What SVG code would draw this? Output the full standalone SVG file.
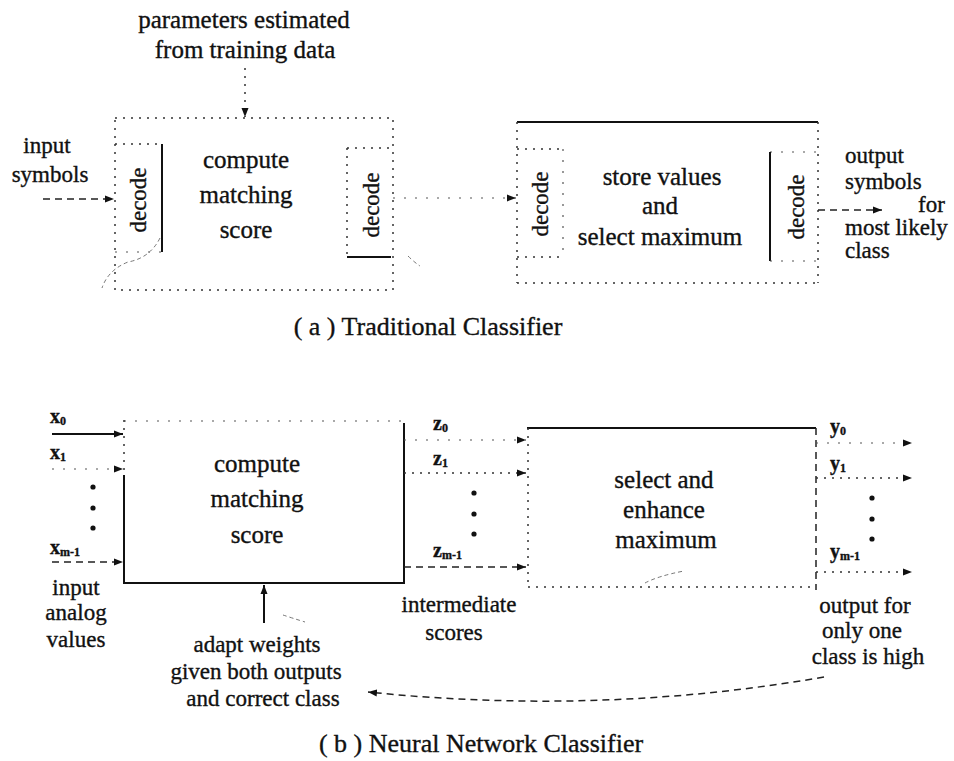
<svg xmlns="http://www.w3.org/2000/svg" width="954" height="761" viewBox="0 0 954 761">
<style>
.t{font-family:"Liberation Serif","Times New Roman",serif;fill:#111;stroke:#111;stroke-width:0.35}
.m{font-size:25px;text-anchor:middle}
.s{font-size:23px}
.c{text-anchor:middle}
.cap{font-size:26px;text-anchor:middle}
.sym{font-size:20px;font-weight:bold}
.sub{font-size:12px;font-weight:bold}
.solid{stroke:#111;stroke-width:2;fill:none}
.dot{stroke:#333;stroke-width:1.5;fill:none;stroke-dasharray:2 6}
.faint{stroke:#555;stroke-width:1.2;fill:none;stroke-dasharray:2 9}
.dash{stroke:#222;stroke-width:1.5;fill:none;stroke-dasharray:7 5}
.noise{stroke:#777;stroke-width:1;fill:none;stroke-dasharray:4 3}
.bead{fill:#111}
</style>
<defs>
<marker id="ah" markerUnits="userSpaceOnUse" markerWidth="10" markerHeight="8" refX="9" refY="4" orient="auto">
<path d="M0,0.5 L9,4 L0,7.5 Z" fill="#111"/>
</marker>
</defs>

<!-- ===== (a) Traditional Classifier ===== -->
<g id="params-label">
<text class="t m" x="244" y="28">parameters estimated</text>
<text class="t m" x="245" y="58">from training data</text>
</g>

<g id="input-symbols">
<text class="t s c" x="47" y="153">input</text>
<text class="t s c" x="50" y="182">symbols</text>
</g>

<g id="compute-a">
<rect class="dot" x="115" y="118" width="278" height="172"/>
<text class="t m" x="246" y="168">compute</text>
<text class="t m" x="246" y="203">matching</text>
<text class="t m" x="246" y="238">score</text>
</g>

<g id="decode-a1">
<line class="dot" x1="115" y1="144" x2="162" y2="144"/>
<line class="solid" x1="162" y1="144" x2="162" y2="252"/>
<line class="faint" x1="115" y1="252" x2="162" y2="252"/>
<text class="t s c" transform="translate(146,200) rotate(-90)">decode</text>
</g>

<g id="decode-a2">
<line class="dot" x1="347" y1="148" x2="393" y2="148"/>
<line class="dot" x1="347" y1="148" x2="347" y2="257"/>
<line class="solid" x1="347" y1="257" x2="391" y2="257"/>
<text class="t s c" transform="translate(379,205) rotate(-90)">decode</text>
</g>

<g id="select-a">
<line class="solid" x1="517" y1="122" x2="818" y2="122"/>
<line class="dot" x1="818" y1="122" x2="818" y2="283"/>
<line class="dot" x1="517" y1="283" x2="818" y2="283"/>
<line class="dot" x1="517" y1="122" x2="517" y2="283"/>
<text class="t m" x="662" y="185">store values</text>
<text class="t m" x="660" y="214">and</text>
<text class="t m" x="660" y="245">select maximum</text>
</g>

<g id="decode-a3">
<line class="dot" x1="517" y1="149" x2="563" y2="149"/>
<line class="faint" x1="563" y1="149" x2="563" y2="257"/>
<line class="dot" x1="517" y1="257" x2="563" y2="257"/>
<text class="t s c" transform="translate(548,204) rotate(-90)">decode</text>
</g>

<g id="decode-a4">
<line class="faint" x1="770" y1="152" x2="818" y2="152"/>
<line class="solid" x1="770" y1="152" x2="770" y2="261"/>
<line class="faint" x1="770" y1="261" x2="818" y2="261"/>
<text class="t s c" transform="translate(804,207) rotate(-90)">decode</text>
</g>

<g id="output-symbols">
<text class="t s" x="845" y="163">output</text>
<text class="t s" x="845" y="189">symbols</text>
<text class="t s" x="918" y="212">for</text>
<text class="t s" x="845" y="235">most likely</text>
<text class="t s" x="845" y="258">class</text>
</g>

<g id="caption-a">
<text class="t cap" x="428" y="335">( a ) Traditional Classifier</text>
</g>

<!-- ===== (b) Neural Network Classifier ===== -->
<g id="compute-b">
<line class="faint" x1="124" y1="421" x2="404" y2="421"/>
<line class="dot" x1="124" y1="420" x2="124" y2="475"/>
<line class="solid" x1="124" y1="475" x2="124" y2="583"/>
<line class="solid" x1="123" y1="583" x2="405" y2="583"/>
<line class="solid" x1="404" y1="423" x2="404" y2="583"/>
<text class="t m" x="257" y="472">compute</text>
<text class="t m" x="257" y="507">matching</text>
<text class="t m" x="257" y="543">score</text>
</g>

<g id="inputs-b">
<text class="t sym" x="50" y="423">x<tspan class="sub" dy="2">0</tspan></text>
<text class="t sym" x="50" y="459">x<tspan class="sub" dy="2">1</tspan></text>
<text class="t sym" x="50" y="554">x<tspan class="sub" dy="2">m-1</tspan></text>
<circle class="bead" cx="93" cy="487" r="2.6"/>
<circle class="bead" cx="93" cy="508" r="2.6"/>
<circle class="bead" cx="93" cy="528" r="2.6"/>
<text class="t s c" x="76" y="595">input</text>
<text class="t s c" x="76" y="620">analog</text>
<text class="t s c" x="76" y="647">values</text>
</g>

<g id="adapt-label">
<text class="t s c" x="257" y="652">adapt weights</text>
<text class="t s c" x="256" y="679">given both outputs</text>
<text class="t s c" x="263" y="706">and correct class</text>
</g>

<g id="intermediate-b">
<text class="t sym" x="433" y="430">z<tspan class="sub" dy="2">0</tspan></text>
<text class="t sym" x="433" y="465">z<tspan class="sub" dy="2">1</tspan></text>
<text class="t sym" x="433" y="557">z<tspan class="sub" dy="2">m-1</tspan></text>
<circle class="bead" cx="474" cy="493" r="2.6"/>
<circle class="bead" cx="474" cy="514" r="2.6"/>
<circle class="bead" cx="474" cy="534" r="2.6"/>
<text class="t s c" x="459" y="612">intermediate</text>
<text class="t s c" x="454" y="640">scores</text>
</g>

<g id="select-b">
<line class="solid" x1="527" y1="428" x2="816" y2="428"/>
<line class="dash" x1="816" y1="428" x2="816" y2="590"/>
<line class="dot" x1="528" y1="428" x2="528" y2="587"/>
<line class="dot" x1="528" y1="587" x2="816" y2="587"/>
<text class="t m" x="664" y="488">select and</text>
<text class="t m" x="664" y="518">enhance</text>
<text class="t m" x="666" y="548">maximum</text>
</g>

<g id="outputs-b">
<text class="t sym" x="830" y="433">y<tspan class="sub" dy="2">0</tspan></text>
<text class="t sym" x="830" y="470">y<tspan class="sub" dy="2">1</tspan></text>
<text class="t sym" x="830" y="558">y<tspan class="sub" dy="2">m-1</tspan></text>
<circle class="bead" cx="872" cy="498" r="2.6"/>
<circle class="bead" cx="872" cy="519" r="2.6"/>
<circle class="bead" cx="872" cy="539" r="2.6"/>
<text class="t s c" x="865" y="613">output for</text>
<text class="t s c" x="862" y="638">only one</text>
<text class="t s c" x="868" y="664">class is high</text>
</g>

<g id="caption-b">
<text class="t cap" x="481" y="752">( b ) Neural Network Classifier</text>
</g>

<!-- ===== connectors ===== -->
<g id="connectors">
<line class="dot" x1="245" y1="68" x2="245" y2="117" marker-end="url(#ah)"/>
<line class="dash" x1="43" y1="199" x2="114" y2="199" marker-end="url(#ah)"/>
<line class="faint" x1="393" y1="198" x2="516" y2="198" marker-end="url(#ah)"/>
<line class="dash" x1="818" y1="210" x2="882" y2="210" marker-end="url(#ah)"/>

<line class="solid" x1="52" y1="434" x2="123" y2="434" marker-end="url(#ah)"/>
<line class="faint" x1="52" y1="469" x2="123" y2="469" marker-end="url(#ah)"/>
<line class="dash" x1="52" y1="562" x2="123" y2="562" marker-end="url(#ah)"/>

<line class="faint" x1="404" y1="440" x2="526" y2="440" marker-end="url(#ah)"/>
<line class="dot" x1="404" y1="473" x2="526" y2="473" marker-end="url(#ah)"/>
<line class="dash" x1="404" y1="567" x2="526" y2="567" marker-end="url(#ah)"/>

<line class="faint" x1="816" y1="443" x2="912" y2="443" marker-end="url(#ah)"/>
<line class="dot" x1="816" y1="478" x2="912" y2="478" marker-end="url(#ah)"/>
<line class="dot" x1="816" y1="572" x2="912" y2="572" marker-end="url(#ah)"/>

<line class="solid" x1="264" y1="623" x2="264" y2="585" marker-end="url(#ah)"/>
<path class="dash" d="M824,677 Q600,716 368,692" marker-end="url(#ah)"/>
</g>

<g id="scan-marks">
<path class="noise" d="M160,238 Q150,258 128,262 Q108,270 102,288"/>
<path class="noise" d="M408,256 Q414,262 420,266"/>
<path class="noise" d="M283,615 Q292,618 305,622"/>
<path class="noise" d="M645,583 Q658,576 684,571"/>
</g>
</svg>
